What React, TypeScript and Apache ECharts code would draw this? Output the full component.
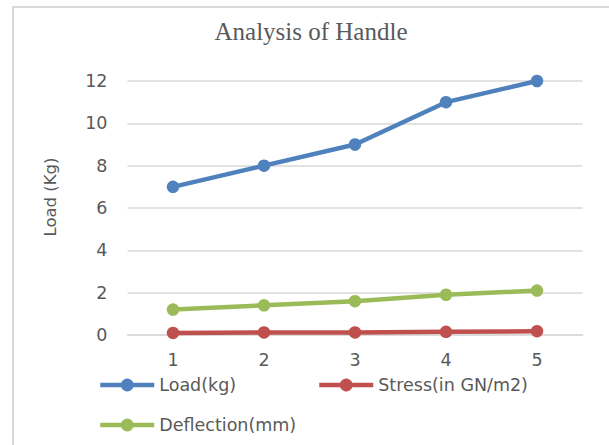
import React, { useEffect, useRef } from "react";
import * as echarts from "echarts";

const categories = ["1", "2", "3", "4", "5"];
const loadValues = [7, 8, 9, 11, 12];
const stressValues = [0.1, 0.12, 0.12, 0.15, 0.18];
const deflectionValues = [1.2, 1.4, 1.6, 1.9, 2.1];
const seriesNames = ["Load(kg)", "Stress(in GN/m2)", "Deflection(mm)"];
const colors = ["#4F81BD", "#C0504D", "#9BBB59"];
const titleText = "Analysis of Handle";
const yAxisName = "Load (Kg)";

const FONT = "DejaVu Sans";
const TEXT = "#595959";

export default function App() {
  const ref = useRef<HTMLDivElement>(null);
  useEffect(() => {
    if (!ref.current) return;
    const chart = echarts.init(ref.current, undefined, { renderer: "svg" });
    const dataSets = [loadValues, stressValues, deflectionValues];
    const legendPos = [
      { left: 98, top: 376 },
      { left: 317, top: 376 },
      { left: 98, top: 416 },
    ];
    chart.setOption({
      animation: false,
      backgroundColor: "#ffffff",
      title: {
        text: titleText,
        left: 311,
        top: 19,
        padding: 0,
        textAlign: "center",
        textStyle: {
          fontFamily: "Liberation Serif",
          fontSize: 25,
          fontWeight: "normal",
          color: TEXT,
        },
      },
      graphic: [
        {
          type: "rect",
          shape: { x: 13, y: 7, width: 700, height: 600 },
          style: { fill: "none", stroke: "#d9d9d9", lineWidth: 2 },
          silent: true,
        },
        {
          type: "text",
          x: 50,
          y: 197,
          rotation: Math.PI / 2,
          style: {
            text: yAxisName,
            fontFamily: FONT,
            fontSize: 16.5,
            fill: TEXT,
            align: "center",
            verticalAlign: "middle",
          },
          silent: true,
        },
      ],
      legend: seriesNames.map((n, i) => ({
        data: [n],
        left: legendPos[i].left,
        top: legendPos[i].top,
        itemWidth: 54,
        itemHeight: 16,
        padding: 0,
        lineStyle: { width: 4.5 },
        textStyle: { fontFamily: FONT, fontSize: 17.5, color: TEXT },
      })),
      grid: { left: 127.5, right: 26.5, top: 81, bottom: 110 },
      xAxis: {
        type: "category",
        data: categories,
        boundaryGap: true,
        axisLine: { show: true, lineStyle: { color: "#d9d9d9", width: 1.5 } },
        axisTick: { show: false },
        axisLabel: {
          margin: 16,
          fontFamily: FONT,
          fontSize: 17.5,
          color: TEXT,
        },
      },
      yAxis: {
        type: "value",
        min: 0,
        max: 12,
        interval: 2,
        axisLine: { show: false },
        axisTick: { show: false },
        splitLine: { lineStyle: { color: "#d9d9d9", width: 1.5 } },
        axisLabel: {
          margin: 20,
          fontFamily: FONT,
          fontSize: 17.5,
          color: TEXT,
        },
      },
      series: seriesNames.map((n, i) => ({
        name: n,
        type: "line",
        data: dataSets[i],
        symbol: "circle",
        symbolSize: 12.5,
        color: colors[i],
        lineStyle: { width: 4.5, color: colors[i] },
        itemStyle: { color: colors[i] },
      })),
    });
    return () => chart.dispose();
  }, []);
  return (
    <div
      ref={ref}
      style={{ position: "absolute", left: 0, top: 0, width: 609, height: 445 }}
    />
  );
}
